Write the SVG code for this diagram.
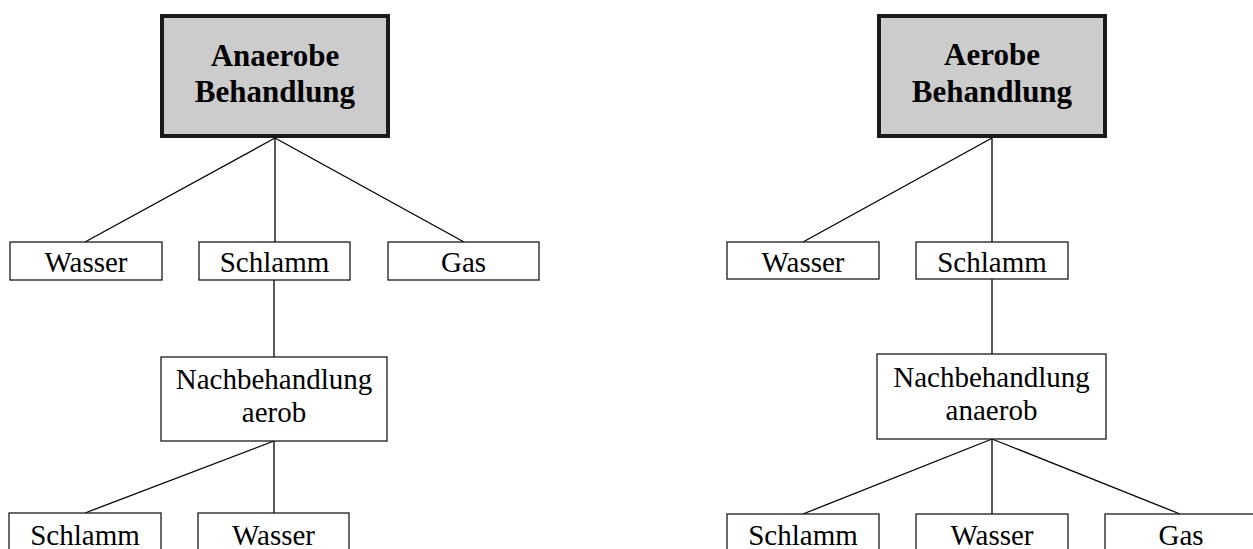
<svg xmlns="http://www.w3.org/2000/svg" width="1253" height="549" viewBox="0 0 1253 549">
<style>
.box{fill:#ffffff;stroke:#1a1a1a;stroke-width:1.3}
.head{fill:#cccccc;stroke:#1a1a1a;stroke-width:4}
.t{font-family:"Liberation Serif","Times New Roman",serif;font-size:29px;fill:#000;text-anchor:middle}
.h{font-family:"Liberation Serif","Times New Roman",serif;font-size:31px;font-weight:bold;fill:#000;text-anchor:middle}
.c{stroke:#000;stroke-width:1.3;fill:none}
</style>
<rect width="1253" height="549" fill="#ffffff"/>
<g id="connectors">
<line class="c" x1="275" y1="138" x2="85" y2="242"/>
<line class="c" x1="275" y1="138" x2="275" y2="242"/>
<line class="c" x1="275" y1="138" x2="464" y2="242"/>
<line class="c" x1="274" y1="280" x2="274" y2="357"/>
<line class="c" x1="274" y1="441" x2="85" y2="513"/>
<line class="c" x1="274" y1="441" x2="274" y2="513"/>
<line class="c" x1="992" y1="138" x2="803" y2="242"/>
<line class="c" x1="992" y1="138" x2="992" y2="242"/>
<line class="c" x1="992" y1="279" x2="992" y2="354"/>
<line class="c" x1="992" y1="439" x2="803" y2="514"/>
<line class="c" x1="992" y1="439" x2="992" y2="514"/>
<line class="c" x1="992" y1="439" x2="1180" y2="514"/>
</g>
<g id="anaerob-head">
<rect class="head" x="162" y="16" width="226" height="120"/>
<text class="h" x="275" y="66">Anaerobe</text>
<text class="h" x="275" y="102">Behandlung</text>
</g>
<g id="l-wasser"><rect class="box" x="10" y="242" width="152" height="38"/><text class="t" x="86" y="272">Wasser</text></g>
<g id="l-schlamm"><rect class="box" x="199" y="242" width="151" height="38"/><text class="t" x="274.5" y="272">Schlamm</text></g>
<g id="l-gas"><rect class="box" x="388" y="242" width="151" height="38"/><text class="t" x="463.5" y="272">Gas</text></g>
<g id="l-nach"><rect class="box" x="161" y="357" width="226" height="84"/><text class="t" x="274" y="389">Nachbehandlung</text><text class="t" x="274" y="422">aerob</text></g>
<g id="l-schlamm2"><rect class="box" x="9" y="513" width="152" height="50"/><text class="t" x="85" y="545">Schlamm</text></g>
<g id="l-wasser2"><rect class="box" x="198" y="513" width="151" height="50"/><text class="t" x="273.5" y="545">Wasser</text></g>
<g id="aerob-head">
<rect class="head" x="879" y="16" width="226" height="120"/>
<text class="h" x="992" y="65">Aerobe</text>
<text class="h" x="992" y="102">Behandlung</text>
</g>
<g id="r-wasser"><rect class="box" x="727" y="242" width="152" height="37"/><text class="t" x="803" y="272">Wasser</text></g>
<g id="r-schlamm"><rect class="box" x="916" y="242" width="152" height="37"/><text class="t" x="992" y="272">Schlamm</text></g>
<g id="r-nach"><rect class="box" x="877" y="354" width="229" height="85"/><text class="t" x="991.5" y="387">Nachbehandlung</text><text class="t" x="991.5" y="420">anaerob</text></g>
<g id="r-schlamm2"><rect class="box" x="727" y="514" width="152" height="50"/><text class="t" x="803" y="545">Schlamm</text></g>
<g id="r-wasser2"><rect class="box" x="916" y="514" width="152" height="50"/><text class="t" x="992" y="545">Wasser</text></g>
<g id="r-gas"><rect class="box" x="1105" y="514" width="152" height="50"/><text class="t" x="1181" y="545">Gas</text></g>
</svg>
